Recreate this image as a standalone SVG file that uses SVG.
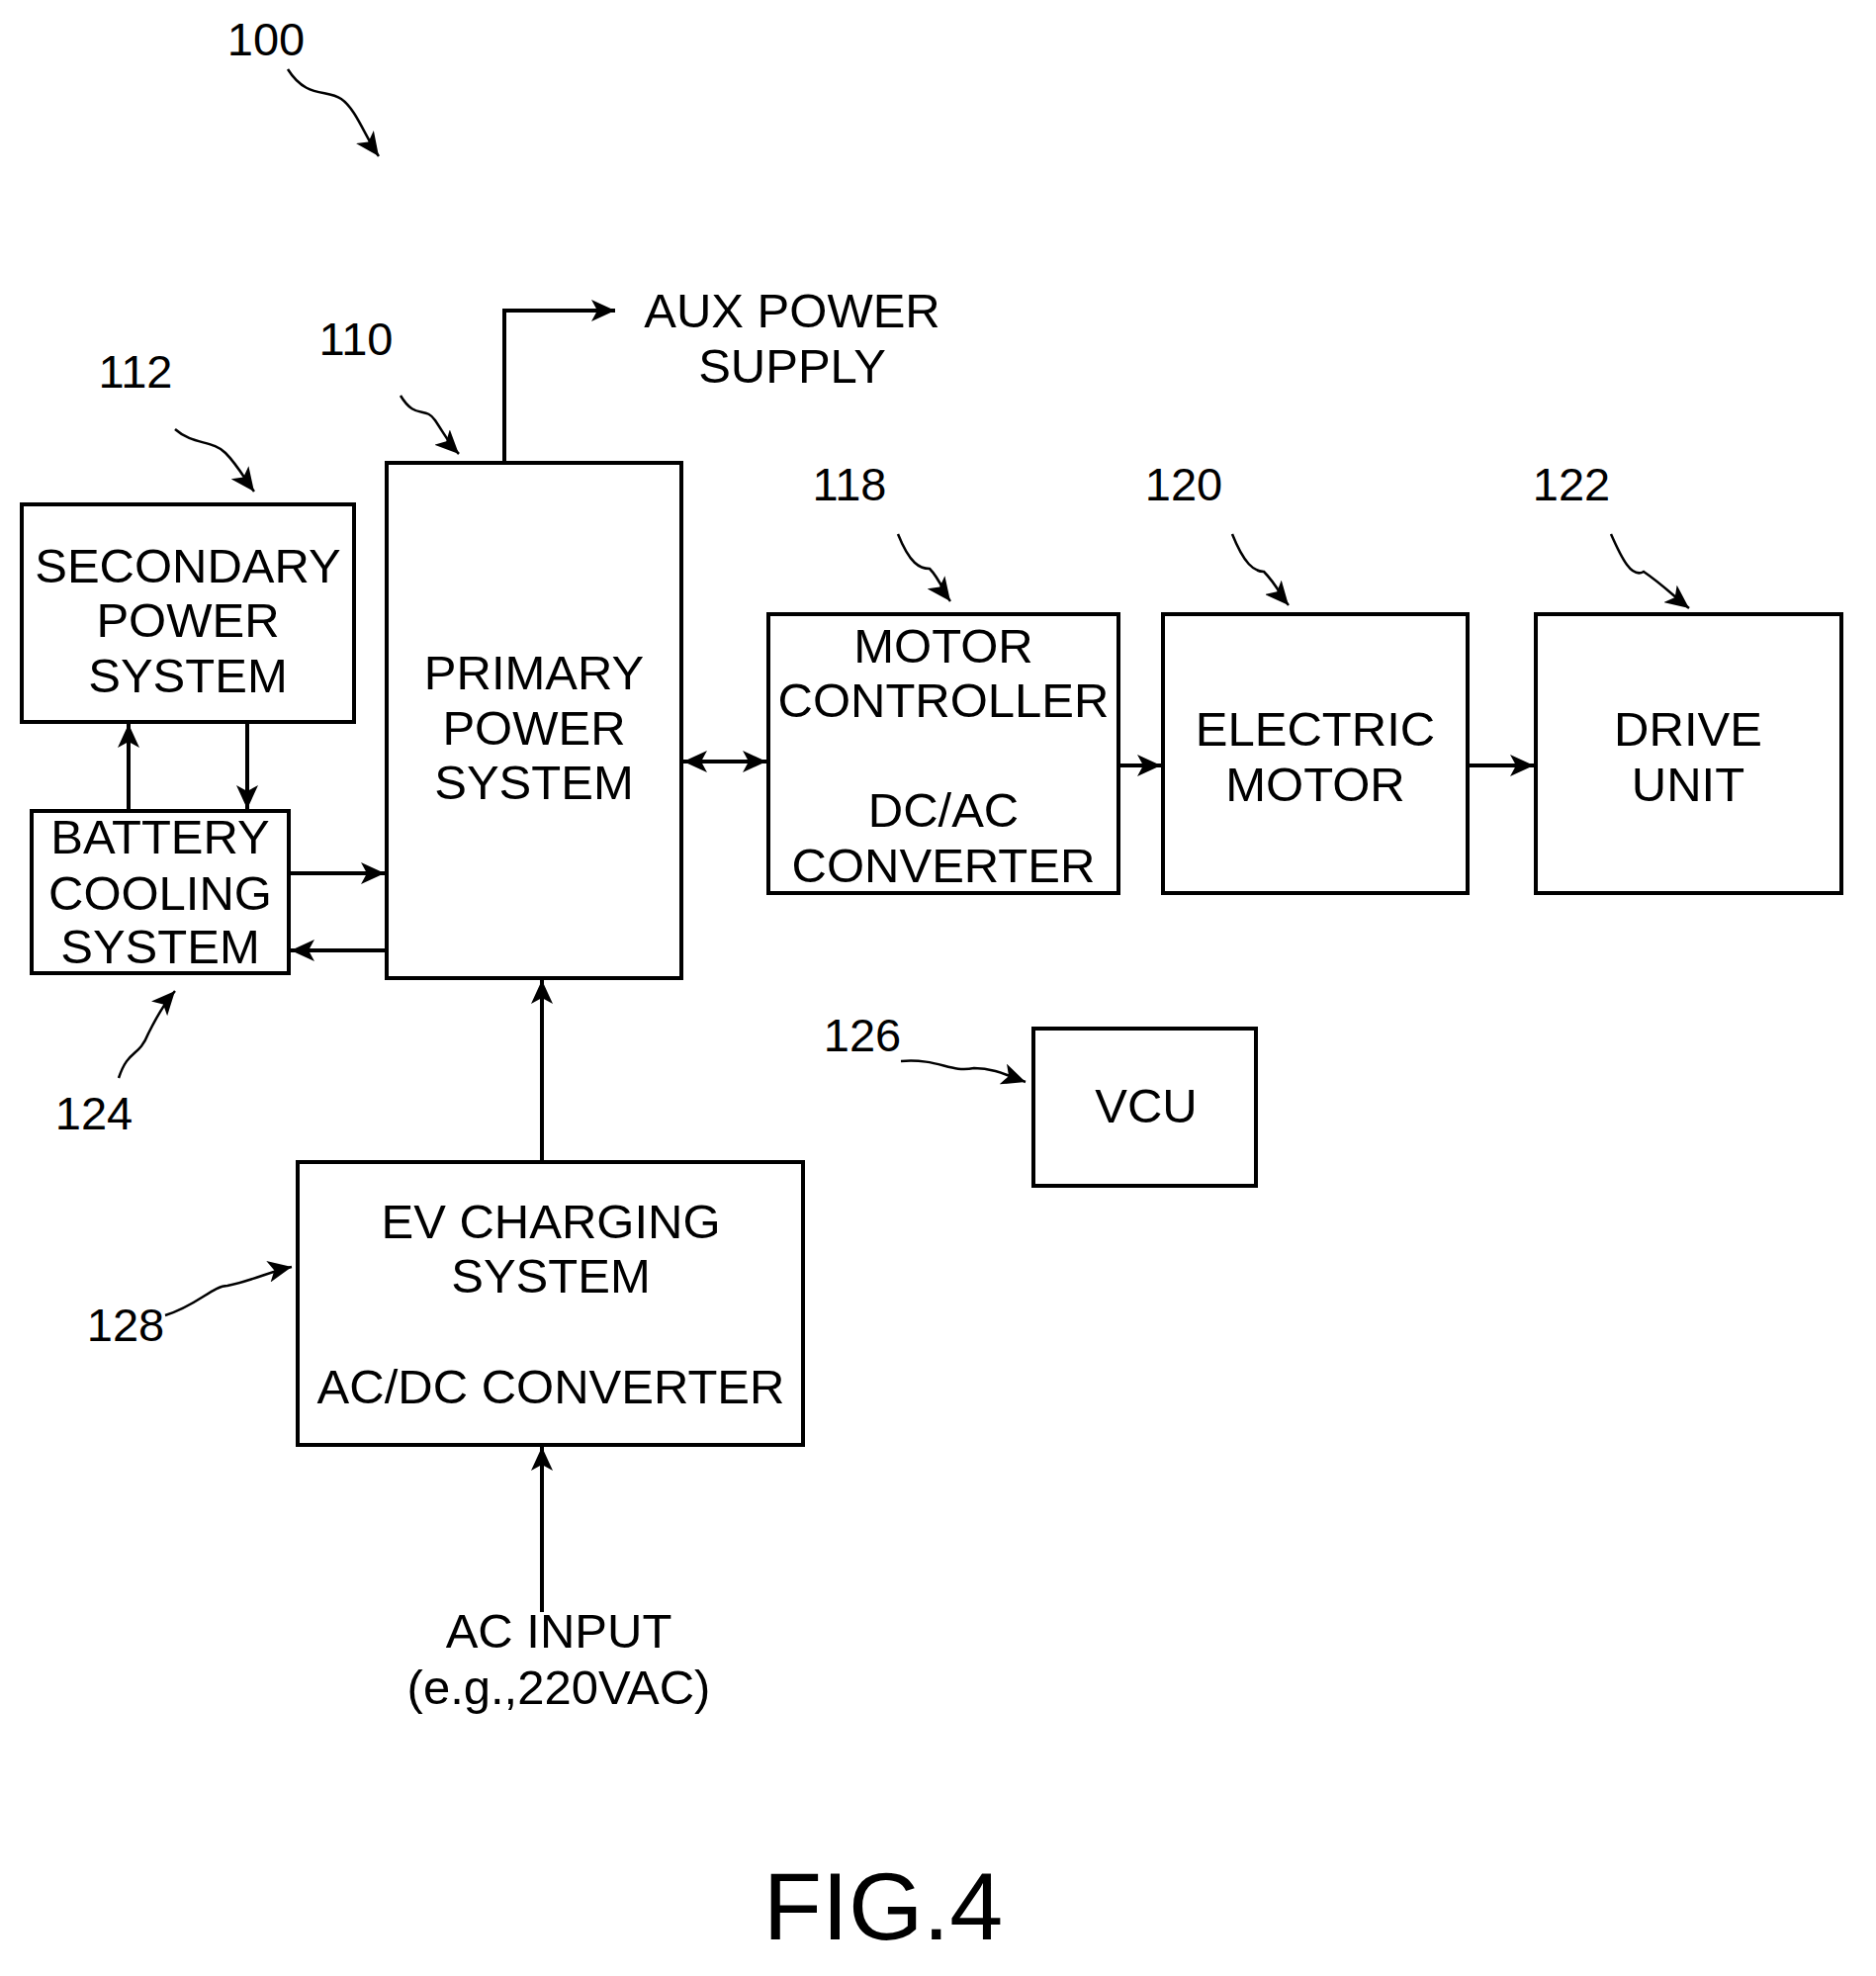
<svg xmlns="http://www.w3.org/2000/svg" width="1897" height="1998" viewBox="0 0 1897 1998">
<style>
text{font-family:"Liberation Sans",Arial,sans-serif;font-size:49px;fill:#000;text-anchor:middle}
.lbl{font-size:47px}
.box{fill:#fff;stroke:#000;stroke-width:4}
.line{fill:none;stroke:#000;stroke-width:4}
.lead{fill:none;stroke:#000;stroke-width:2.5}
</style>
<defs>
<marker id="ah" markerUnits="userSpaceOnUse" markerWidth="26" markerHeight="22" refX="24" refY="11" orient="auto-start-reverse">
<path d="M0,0 L24,11 L0,22 L6,11 Z" fill="#000"/>
</marker>
</defs>
<rect width="1897" height="1998" fill="#fff"/>
<g id="connectors">
<path class="line" d="M510,468 V314 H622" marker-end="url(#ah)"/>
<path class="line" d="M130,820 V732" marker-end="url(#ah)"/>
<path class="line" d="M250,730 V818" marker-end="url(#ah)"/>
<path class="line" d="M292,883 H389" marker-end="url(#ah)"/>
<path class="line" d="M391,961 H294" marker-end="url(#ah)"/>
<path class="line" d="M691,770 H775" marker-start="url(#ah)" marker-end="url(#ah)"/>
<path class="line" d="M1131,774 H1174" marker-end="url(#ah)"/>
<path class="line" d="M1484,774 H1551" marker-end="url(#ah)"/>
<path class="line" d="M548,1175 V991" marker-end="url(#ah)"/>
<path class="line" d="M548,1630 V1463" marker-end="url(#ah)"/>
<path class="lead" d="M291,70 C310,100 330,90 345,100 C360,110 370,140 383,158" marker-end="url(#ah)"/>
<path class="lead" d="M177,434 C195,450 215,445 228,458 C240,470 248,485 257,497" marker-end="url(#ah)"/>
<path class="lead" d="M405,400 C420,425 430,410 440,425 C450,440 455,450 464,459" marker-end="url(#ah)"/>
<path class="lead" d="M908,540 C920,570 930,575 940,575 C950,585 955,600 961,608" marker-end="url(#ah)"/>
<path class="lead" d="M1246,540 C1258,570 1268,578 1278,578 C1290,590 1297,605 1303,612" marker-end="url(#ah)"/>
<path class="lead" d="M1629,540 C1640,565 1650,585 1662,578 C1680,590 1695,605 1708,615" marker-end="url(#ah)"/>
<path class="lead" d="M120,1090 C130,1060 140,1070 150,1045 C160,1025 168,1012 177,1002" marker-end="url(#ah)"/>
<path class="lead" d="M911,1073 C950,1070 960,1085 985,1080 C1005,1080 1020,1088 1037,1094" marker-end="url(#ah)"/>
<path class="lead" d="M167,1330 C200,1320 215,1300 230,1300 C255,1295 275,1285 295,1281" marker-end="url(#ah)"/>
</g>
<g id="n112"><rect class="box" x="22" y="510" width="336" height="220"/><text x="190" y="589">SECONDARY</text><text x="190" y="644">POWER</text><text x="190" y="700">SYSTEM</text></g>
<g id="n124"><rect class="box" x="32" y="820" width="260" height="164"/><text x="162" y="863">BATTERY</text><text x="162" y="920">COOLING</text><text x="162" y="974">SYSTEM</text></g>
<g id="n110"><rect class="box" x="391" y="468" width="298" height="521" stroke-width="5"/><text x="540" y="697">PRIMARY</text><text x="540" y="753">POWER</text><text x="540" y="808">SYSTEM</text></g>
<g id="n118"><rect class="box" x="777" y="621" width="354" height="282"/><text x="954" y="670">MOTOR</text><text x="954" y="725">CONTROLLER</text><text x="954" y="836">DC/AC</text><text x="954" y="892">CONVERTER</text></g>
<g id="n120"><rect class="box" x="1176" y="621" width="308" height="282"/><text x="1330" y="754">ELECTRIC</text><text x="1330" y="810">MOTOR</text></g>
<g id="n122"><rect class="box" x="1553" y="621" width="309" height="282"/><text x="1707" y="754">DRIVE</text><text x="1707" y="810">UNIT</text></g>
<g id="n126"><rect class="box" x="1045" y="1040" width="225" height="159"/><text x="1159" y="1135">VCU</text></g>
<g id="n128"><rect class="box" x="301" y="1175" width="511" height="286"/><text x="557" y="1252">EV CHARGING</text><text x="557" y="1307">SYSTEM</text><text x="557" y="1419">AC/DC CONVERTER</text></g>
<g id="labels">
<text x="801" y="331">AUX POWER</text><text x="801" y="387">SUPPLY</text>
<text x="565" y="1666">AC INPUT</text><text x="565" y="1723">(e.g.,220VAC)</text>
<text class="lbl" x="269" y="56">100</text>
<text class="lbl" x="137" y="392">112</text>
<text class="lbl" x="360" y="359">110</text>
<text class="lbl" x="859" y="506">118</text>
<text class="lbl" x="1197" y="506">120</text>
<text class="lbl" x="1589" y="506">122</text>
<text class="lbl" x="95" y="1142">124</text>
<text class="lbl" x="872" y="1063">126</text>
<text class="lbl" x="127" y="1356">128</text>
<text x="893" y="1961" style="font-size:97px">FIG.4</text>
</g>
</svg>
